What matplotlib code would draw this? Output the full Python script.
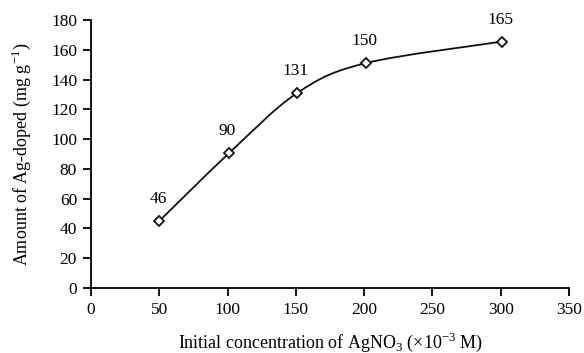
import matplotlib
matplotlib.use("Agg")
import matplotlib.pyplot as plt
from matplotlib.path import Path
from matplotlib.patches import PathPatch

plt.rcParams["font.family"] = ["Liberation Serif", "DejaVu Serif"]
plt.rcParams["mathtext.fontset"] = "custom"
plt.rcParams["mathtext.rm"] = "Liberation Serif"

conc = [50, 101, 151, 201, 301]
amount = [45, 90.5, 131, 151, 165.5]
labels = ["46", "90", "131", "150", "165"]


def smooth_path(xs, ys, tension=1 / 6):
    # Excel-style smoothed line: cubic Bezier segments through the points
    pts = list(zip(xs, ys))
    verts = [pts[0]]
    codes = [Path.MOVETO]
    n = len(pts)
    for i in range(n - 1):
        p0 = pts[i - 1] if i > 0 else pts[i]
        p1 = pts[i]
        p2 = pts[i + 1]
        p3 = pts[i + 2] if i + 2 < n else pts[i + 1]
        c1 = (p1[0] + (p2[0] - p0[0]) * tension, p1[1] + (p2[1] - p0[1]) * tension)
        c2 = (p2[0] - (p3[0] - p1[0]) * tension, p2[1] - (p3[1] - p1[1]) * tension)
        verts += [c1, c2, p2]
        codes += [Path.CURVE4] * 3
    return Path(verts, codes)


fig = plt.figure(figsize=(5.84, 3.53), dpi=100)
ax = fig.add_axes([91 / 584, 65 / 353, 478 / 584, 268 / 353])

ax.add_patch(PathPatch(smooth_path(conc, amount), facecolor="none", edgecolor="#111111", lw=1.3))
ax.plot(conc, amount, linestyle="none", marker="D", ms=5.5, mfc="white", mec="#111111", mew=1.3, zorder=3)
for x, y, t in zip(conc, amount, labels):
    ax.annotate(t, (x, y), xytext=(-1, 10), textcoords="offset points", ha="center", va="bottom", fontsize=12.5)

ax.set_xlim(0, 350)
ax.set_ylim(0, 180)
ax.set_xticks(range(0, 351, 50))
ax.set_yticks(range(0, 181, 20))
ax.spines["top"].set_visible(False)
ax.spines["right"].set_visible(False)
for side in ("left", "bottom"):
    ax.spines[side].set_linewidth(1.3)
ax.tick_params(direction="out", length=6, width=1.3, labelsize=12.5, pad=4)
ax.set_xlabel(r"Initial concentration of AgNO$_3$ ($\times$10$^{-3}$ M)", fontsize=13, labelpad=9)
ax.set_ylabel(r"Amount of Ag-doped (mg g$^{-1}$)", fontsize=13, labelpad=13)

fig.savefig("out.png", dpi=100, facecolor="white")
